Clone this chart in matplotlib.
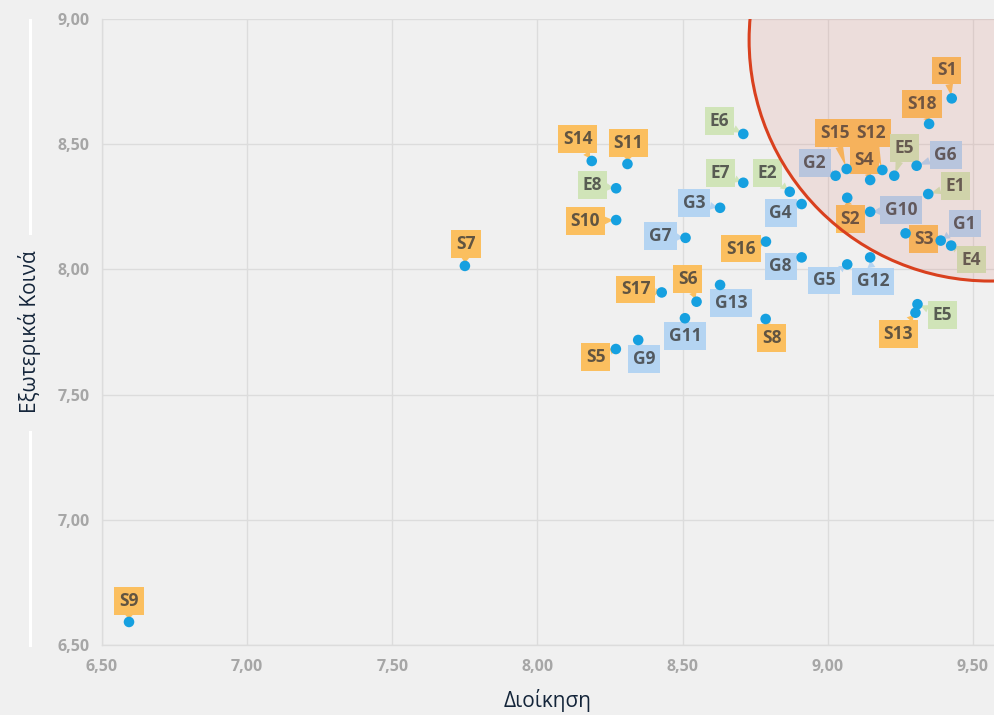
import matplotlib
matplotlib.use("Agg")
import matplotlib.pyplot as plt
from matplotlib.patches import Ellipse
from matplotlib.lines import Line2D
from matplotlib.ticker import FuncFormatter, MultipleLocator

# ---- data ----
names = ["S1", "S18", "E6", "S15", "G2", "S12", "S4", "E5", "G6", "E1",
         "E7", "E2", "G3", "G4", "S2", "G10", "S3", "G1", "E4", "S16",
         "G8", "G5", "G12", "G7", "S14", "S11", "E8", "S10", "S17", "S6",
         "G13", "G11", "S8", "G9", "S5", "E5", "S13", "S7", "S9"]
x_vals = [9.427, 9.349, 8.709, 9.065, 9.027, 9.188, 9.146, 9.229, 9.306, 9.346,
          8.709, 8.869, 8.629, 8.910, 9.067, 9.146, 9.268, 9.389, 9.425, 8.787,
          8.910, 9.067, 9.146, 8.510, 8.187, 8.310, 8.271, 8.271, 8.428, 8.548,
          8.629, 8.508, 8.786, 8.347, 8.270, 9.309, 9.302, 7.750, 6.593]
y_vals = [8.683, 8.581, 8.541, 8.401, 8.374, 8.397, 8.357, 8.374, 8.414, 8.301,
          8.346, 8.310, 8.246, 8.261, 8.286, 8.230, 8.144, 8.115, 8.095, 8.111,
          8.048, 8.020, 8.048, 8.126, 8.433, 8.421, 8.324, 8.197, 7.908, 7.871,
          7.938, 7.805, 7.802, 7.718, 7.682, 7.861, 7.827, 8.014, 6.592]
x_ticks = [6.5, 7.0, 7.5, 8.0, 8.5, 9.0, 9.5]
y_ticks = [6.5, 7.0, 7.5, 8.0, 8.5, 9.0]
x_label = "Διοίκηση"
y_label = "Εξωτερικά Κοινά"

# ---- layout / style ----
label_offsets = [(-5, 28), (-7, 20), (-24, 13), (-12, 36), (-21, 13), (-11, 37), (-6, 20),
                 (10, 28), (29, 11), (27, 8), (-23, 10), (-22, 19), (-26, 5), (-21, -9),
                 (3, -21), (31, 2), (18, -6), (24, 17), (20, -14), (-25, -7), (-21, -9),
                 (-23, -16), (3, -24), (-25, 2), (-14, 22), (1, 21), (-24, 3), (-31, -1),
                 (-26, 3), (-9, 23), (11, -18), (0, -18), (6, -19), (6, -19), (-20, -8),
                 (25, -11), (-17, -21), (1, 22), (0, 21)]
cat_colors = {"S": "#fbbf5f", "E": "#d0e4b8", "G": "#b4d4f2"}
bg = "#f0f0f0"
grid_c = "#dcdcdc"
tick_c = "#a6a6a6"
title_c = "#14253a"
dot_c = "#16a0e0"

W, H = 995, 715
fig = plt.figure(figsize=(W / 100, H / 100), dpi=100, facecolor=bg)
ax = fig.add_axes([102 / W, 1 - 645 / H, (W - 102) / W, (645 - 19) / H], facecolor=bg)
ax.set_xlim(6.5, 9.576)
ax.set_ylim(6.5, 9.0)

ax.xaxis.set_major_locator(MultipleLocator(0.5))
ax.yaxis.set_major_locator(MultipleLocator(0.5))
ax.set_xticks(x_ticks)
ax.set_yticks(y_ticks)
fmt = FuncFormatter(lambda v, p: f"{v:.2f}".replace(".", ","))
ax.xaxis.set_major_formatter(fmt)
ax.yaxis.set_major_formatter(fmt)
ax.grid(True, color=grid_c, lw=1.0, zorder=0)
ax.set_axisbelow(True)
for s in ["top", "right"]:
    ax.spines[s].set_visible(False)
for s in ["left", "bottom"]:
    ax.spines[s].set_color(grid_c)
    ax.spines[s].set_linewidth(1.0)
ax.tick_params(length=0, colors=tick_c, labelsize=11.5)
ax.tick_params(axis="x", pad=10)
ax.tick_params(axis="y", pad=9)
for lab in ax.get_xticklabels() + ax.get_yticklabels():
    lab.set_fontfamily("Open Sans")
    lab.set_fontweight("bold")

# labels with callout pointers
for n, xv, yv, (dx, dy) in zip(names, x_vals, y_vals, label_offsets):
    c = cat_colors[n[0]]
    ax.annotate(n, xy=(xv, yv), xytext=(dx, dy), textcoords="offset pixels",
                ha="center", va="center", fontsize=12.5, fontfamily="Open Sans",
                fontweight="bold", color="#3a3a3a", alpha=0.8, zorder=2,
                bbox=dict(boxstyle="square,pad=0.28", fc=c, ec="none"),
                arrowprops=dict(arrowstyle="wedge,tail_width=0.45,shrink_factor=0.5",
                                fc=c, ec="none", shrinkA=0, shrinkB=2))

# highlight circle
ax.add_patch(Ellipse((9.559, 8.916), width=1.660, height=1.925,
                     fc=(215 / 255, 90 / 255, 73 / 255, 0.12), ec="none", zorder=3))
ax.add_patch(Ellipse((9.559, 8.916), width=1.660, height=1.925,
                     fc="none", ec="#d9401e", lw=2.2, zorder=3.5))

ax.scatter(x_vals, y_vals, s=58, color=dot_c, edgecolors="none", zorder=4)

# axis titles
fig.text(548 / W, 1 - 700 / H, x_label, ha="center", va="center",
         fontsize=15, fontfamily="Open Sans", color=title_c)
fig.text(30 / W, 1 - 332 / H, y_label, ha="center", va="center", rotation=90,
         fontsize=15, fontfamily="Open Sans", color=title_c)
fig.add_artist(Line2D([30 / W, 30 / W], [1 - 20 / H, 1 - 233 / H], color="white",
                      lw=2.2, transform=fig.transFigure))
fig.add_artist(Line2D([30 / W, 30 / W], [1 - 432 / H, 1 - 645 / H], color="white",
                      lw=2.2, transform=fig.transFigure))

fig.savefig("out.png", dpi=100, facecolor=bg)
